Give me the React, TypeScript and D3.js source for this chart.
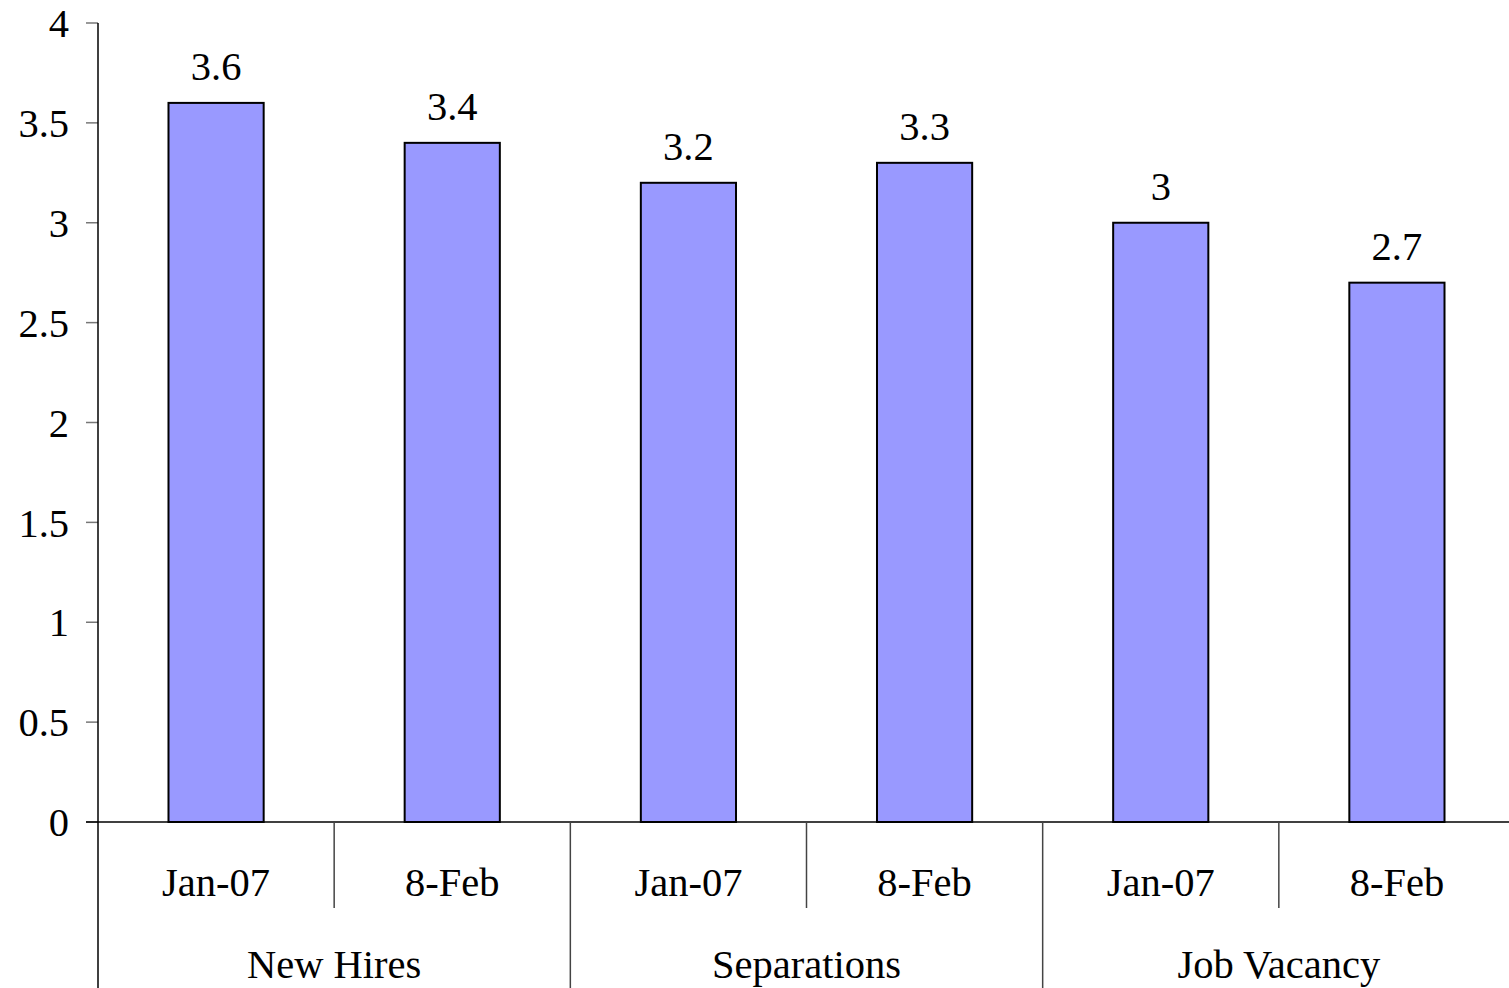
import * as d3 from "d3";

const groups = ["New Hires", "Separations", "Job Vacancy"];
const periods = ["Jan-07", "8-Feb"];
const values = [3.6, 3.4, 3.2, 3.3, 3.0, 2.7];
const yTicks = [0, 0.5, 1, 1.5, 2, 2.5, 3, 3.5, 4];

const W = 1509;
const H = 988;
const font = "'Liberation Serif', 'Times New Roman', serif";
const fs = 40.5;

const App = () => {
  const left = 98;
  const right = 1515;
  const base = 822;

  const y = d3.scaleLinear().domain([0, 4]).range([base, 23]);
  const x = d3
    .scaleBand<number>()
    .domain(values.map((_d, i) => i))
    .range([left, right])
    .paddingInner(0.597)
    .paddingOuter(0.2985);
  const step = x.step();
  const slot = (i: number) => left + i * step;
  const fmt = (v: number) => String(v);

  return (
    <svg
      width={W}
      height={H}
      style={{ position: "absolute", left: 0, top: 0, background: "#fff" }}
      fontFamily={font}
    >
      {/* y ticks */}
      {yTicks.map(t => (
        <g key={t}>
          <line x1={86} x2={left} y1={y(t)} y2={y(t)} stroke="#777" strokeWidth={1.5} />
          <text x={69} y={y(t)} dy="0.35em" textAnchor="end" fontSize={fs}>
            {fmt(t)}
          </text>
        </g>
      ))}

      {/* bars */}
      {values.map((v, i) => (
        <g key={i}>
          <rect
            x={x(i)}
            y={y(v)}
            width={x.bandwidth()}
            height={base - y(v)}
            fill="#9999FF"
            stroke="#000"
            strokeWidth={2}
          />
          <text
            x={(x(i) as number) + x.bandwidth() / 2}
            y={y(v) - 23}
            textAnchor="middle"
            fontSize={fs}
          >
            {fmt(v)}
          </text>
        </g>
      ))}

      {/* axes */}
      <line x1={left} x2={left} y1={23} y2={H} stroke="#000" strokeWidth={1.5} />
      <line x1={86} x2={W} y1={base} y2={base} stroke="#000" strokeWidth={1.5} />

      {/* category separators */}
      {values.map((_v, i) =>
        i % 2 === 1 ? (
          <line key={"s" + i} x1={slot(i)} x2={slot(i)} y1={base} y2={908} stroke="#444" strokeWidth={1.5} />
        ) : i > 0 ? (
          <line key={"s" + i} x1={slot(i)} x2={slot(i)} y1={base} y2={H} stroke="#444" strokeWidth={1.5} />
        ) : null
      )}

      {/* period labels */}
      {values.map((_v, i) => (
        <text
          key={"p" + i}
          x={slot(i) + step / 2}
          y={896}
          textAnchor="middle"
          fontSize={fs}
        >
          {periods[i % 2]}
        </text>
      ))}

      {/* group labels */}
      {groups.map((g, gi) => (
        <text
          key={g}
          x={slot(gi * 2) + step}
          y={978}
          textAnchor="middle"
          fontSize={fs}
        >
          {g}
        </text>
      ))}
    </svg>
  );
};

export default App;
